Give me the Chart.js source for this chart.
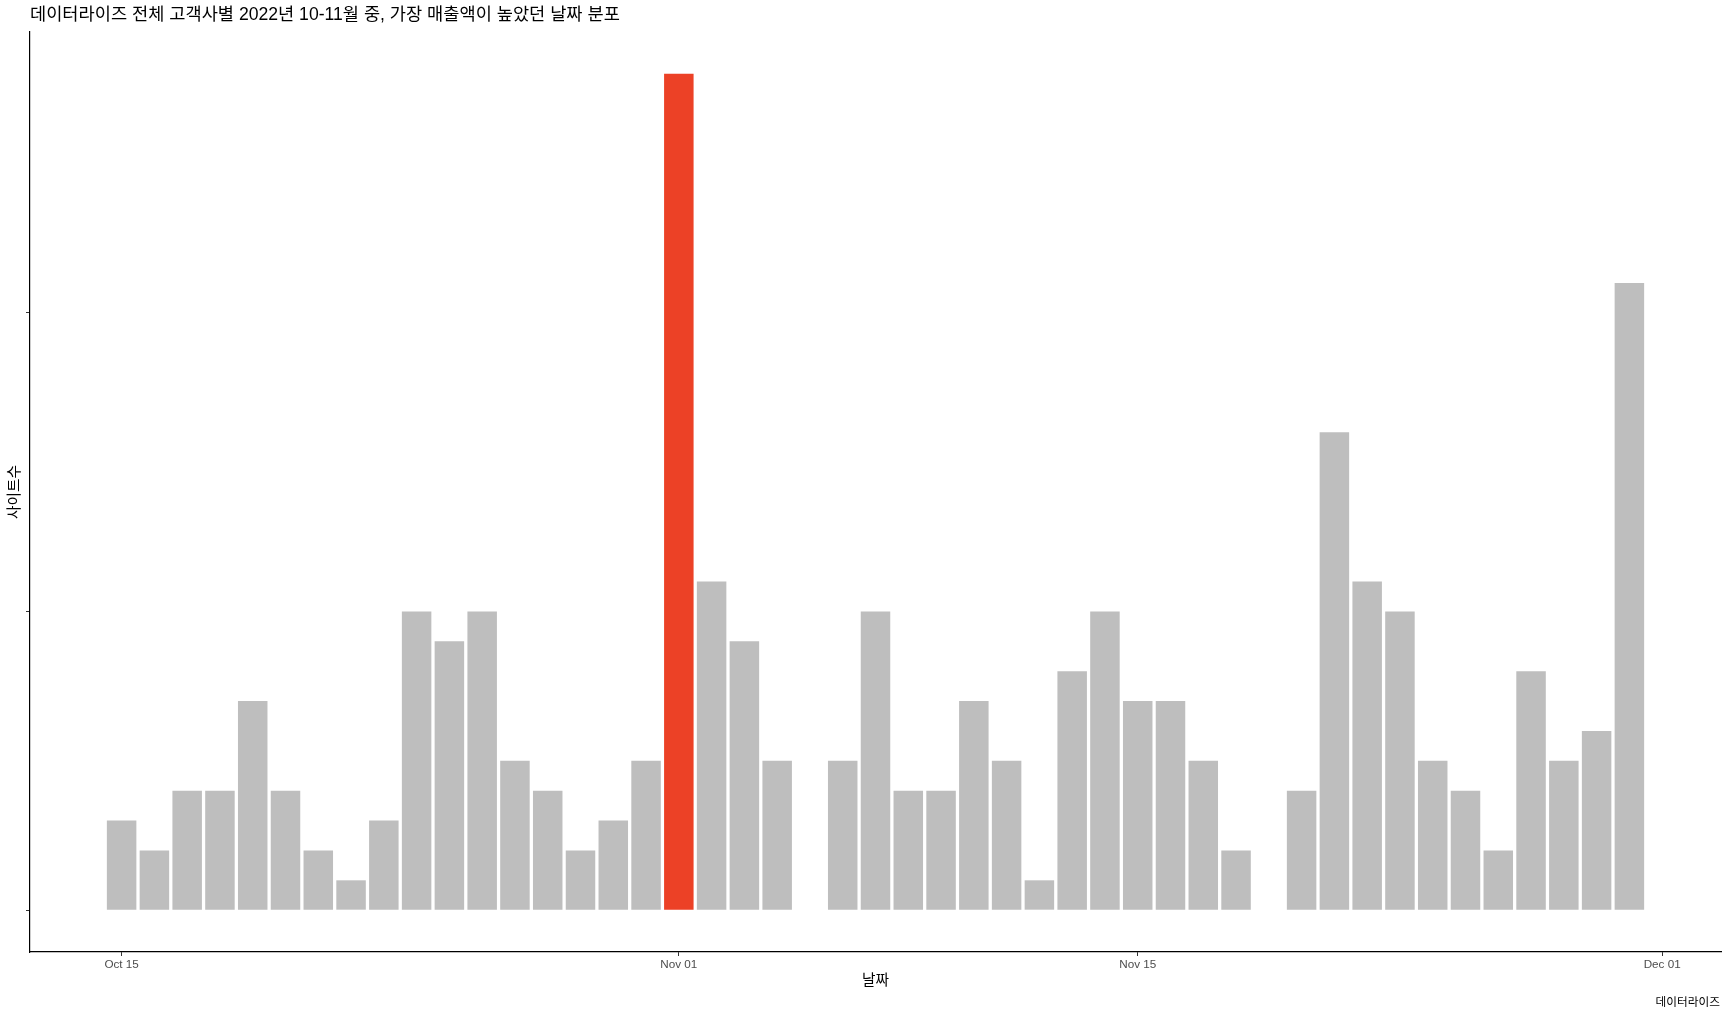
<!DOCTYPE html>
<html lang="ko">
<head>
<meta charset="utf-8">
<title>가장 매출액이 높았던 날짜 분포</title>
<script src="https://cdn.jsdelivr.net/npm/chart.js@4.4.1/dist/chart.umd.min.js"></script>
<style>
    html, body { margin: 0; padding: 0; background: #fff; }
    canvas { display: block; }
</style>
</head>
<body>
<canvas id="dateChart" width="1728" height="1016"></canvas>
<script>
// 데이터
const dates = [
    "2022-10-15","2022-10-16","2022-10-17","2022-10-18","2022-10-19","2022-10-20","2022-10-21",
    "2022-10-22","2022-10-23","2022-10-24","2022-10-25","2022-10-26","2022-10-27","2022-10-28",
    "2022-10-29","2022-10-30","2022-10-31","2022-11-01","2022-11-02","2022-11-03","2022-11-04",
    "2022-11-06","2022-11-07","2022-11-08","2022-11-09","2022-11-10","2022-11-11","2022-11-12",
    "2022-11-13","2022-11-14","2022-11-15","2022-11-16","2022-11-17","2022-11-18",
    "2022-11-20","2022-11-21","2022-11-22","2022-11-23","2022-11-24","2022-11-25","2022-11-26",
    "2022-11-27","2022-11-28","2022-11-29","2022-11-30"
]
const siteCounts = [
    3, 2, 4, 4, 7, 4, 2,
    1, 3, 10, 9, 10, 5, 4,
    2, 3, 5, 28, 11, 9, 5,
    5, 10, 4, 4, 7, 5, 1,
    8, 10, 7, 7, 5, 2,
    4, 16, 11, 10, 5, 4, 2,
    8, 5, 6, 21
]
const tickDates = ["2022-10-15", "2022-11-01", "2022-11-15", "2022-12-01"]
const tickLabels = ["Oct 15", "Nov 01", "Nov 15", "Dec 01"]
const yTicks = [0, 10, 20]

const plotTitle = "데이터라이즈 전체 고객사별 2022년 10-11월 중, 가장 매출액이 높았던 날짜 분포"
const captionText = "데이터라이즈"
const FONT = '"Liberation Sans", "Noto Sans CJK KR", sans-serif'

// 날짜 -> 첫 날부터의 일수
const dayOf = d => (Date.parse(d) - Date.parse(dates[0])) / 86400000
const xs = dates.map(dayOf)

// ggplot 기본 확장 (5%)
const xLo = Math.min(...xs) - 0.45, xHi = Math.max(...xs) + 0.45
const xPad = (xHi - xLo) * 0.05
const yMax = Math.max(...siteCounts)
const yPad = yMax * 0.05

const plotText = {
    id: "plotText",
    afterDraw(chart){
        const ctx = chart.ctx
        const area = chart.chartArea
        ctx.save()
        ctx.fillStyle = "#000"
        ctx.textBaseline = "middle"
        ctx.textAlign = "left"
        ctx.font = "17.6px " + FONT
        ctx.fillText(plotTitle, area.left, 15)
        ctx.textAlign = "right"
        ctx.font = "11.7px " + FONT
        ctx.fillText(captionText, chart.width - 8, chart.height - 13)
        ctx.restore()
    }
}

new Chart(document.getElementById("dateChart"), {
    type: "bar",
    data: {
        datasets: [{
            label: "사이트수",
            data: xs.map((x, i) => ({ x: x, y: siteCounts[i] })),
            backgroundColor: siteCounts.map(v => v === yMax ? "#EC4126" : "#BEBEBE"),
            borderWidth: 0,
            categoryPercentage: 1.0,
            barPercentage: 0.9,
        }]
    },
    options: {
        responsive: false,
        animation: false,
        events: [],
        layout: { padding: { top: 32, left: 0, right: 7, bottom: 0 } },
        plugins: {
            legend: { display: false },
            tooltip: { enabled: false }
        },
        scales: {
            x: {
                type: "linear",
                offset: false,
                min: xLo - xPad,
                max: xHi + xPad,
                afterBuildTicks: (scale) => {
                    scale.ticks = tickDates.map(d => ({ value: dayOf(d) }))
                },
                afterFit: (scale) => { scale.height = 64 },
                ticks: {
                    color: "#4D4D4D",
                    padding: 2,
                    autoSkip: false,
                    maxRotation: 0,
                    font: { family: FONT, size: 11.7 },
                    callback: (val) => tickLabels[tickDates.map(dayOf).indexOf(val)]
                },
                grid: { offset: false, drawOnChartArea: false, drawTicks: true, tickLength: 4, color: "#333333" },
                border: { display: true, color: "#000", width: 1.2 },
                title: {
                    display: true,
                    text: "날짜",
                    color: "#000",
                    font: { family: FONT, size: 14.7, lineHeight: 1.2 },
                    padding: { top: 0, bottom: 26 }
                }
            },
            y: {
                min: -yPad,
                max: yMax + yPad,
                afterBuildTicks: (scale) => {
                    scale.ticks = yTicks.map(v => ({ value: v }))
                },
                afterFit: (scale) => { scale.width = 30 },
                ticks: { display: false },
                grid: { drawOnChartArea: false, drawTicks: true, tickLength: 4, color: "#333333" },
                border: { display: true, color: "#000", width: 1.2 },
                title: {
                    display: true,
                    text: "사이트수",
                    color: "#000",
                    font: { family: FONT, size: 14.7, lineHeight: 1.2 },
                    padding: { top: 6, bottom: 0 }
                }
            }
        }
    },
    plugins: [plotText]
})
</script>
</body>
</html>
